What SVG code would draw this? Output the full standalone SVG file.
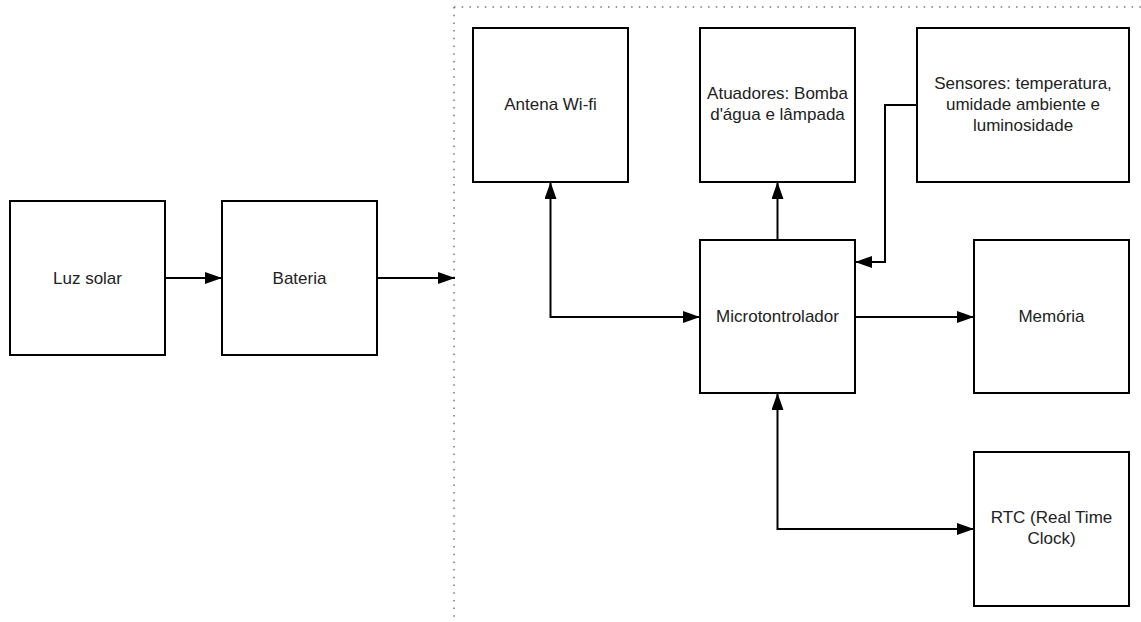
<svg xmlns="http://www.w3.org/2000/svg" width="1141" height="622" viewBox="0 0 1141 622">
  <defs>
    <marker id="arr" markerUnits="userSpaceOnUse" markerWidth="18" markerHeight="13" refX="17" refY="6" orient="auto-start-reverse">
      <path d="M0,0 L17,6 L0,12 Z" fill="#000"/>
    </marker>
    <style>
      .box { fill: #fff; stroke: #000; stroke-width: 2; }
      .lbl { font-family: "Liberation Sans", Arial, sans-serif; font-size: 17px; fill: #222; text-anchor: middle; }
      .con { fill: none; stroke: #000; stroke-width: 2; }
      .dot { fill: none; stroke: #777; stroke-width: 1.5; stroke-dasharray: 1.5 6.2; }
    </style>
  </defs>
  <rect width="1141" height="622" fill="#fff"/>

  <g id="container">
    <path class="dot" d="M454,7 H1141 M454,7 V622"/>
  </g>

  <g id="connectors">
    <path class="con" d="M165,278 H222" marker-end="url(#arr)"/>
    <path class="con" d="M377,278 H455" marker-end="url(#arr)"/>
    <path class="con" d="M550.5,182 V317 H700" marker-start="url(#arr)" marker-end="url(#arr)"/>
    <path class="con" d="M777.5,240 V182" marker-end="url(#arr)"/>
    <path class="con" d="M917,105 H885 V262 H855" marker-end="url(#arr)"/>
    <path class="con" d="M855,317 H974" marker-end="url(#arr)"/>
    <path class="con" d="M777.5,393 V529 H974" marker-start="url(#arr)" marker-end="url(#arr)"/>
  </g>

  <g id="luz-solar">
    <rect class="box" x="10" y="201" width="155" height="154"/>
    <text class="lbl" x="87.5" y="284">Luz solar</text>
  </g>
  <g id="bateria">
    <rect class="box" x="222" y="201" width="155" height="154"/>
    <text class="lbl" x="299.5" y="284">Bateria</text>
  </g>
  <g id="antena">
    <rect class="box" x="473" y="28" width="155" height="154"/>
    <text class="lbl" x="550.5" y="110">Antena Wi-fi</text>
  </g>
  <g id="atuadores">
    <rect class="box" x="700" y="28" width="155" height="154"/>
    <text class="lbl" x="777.5" y="99">Atuadores: Bomba</text>
    <text class="lbl" x="777.5" y="120">d'água e lâmpada</text>
  </g>
  <g id="sensores">
    <rect class="box" x="917" y="28" width="212" height="154"/>
    <text class="lbl" x="1023" y="89">Sensores: temperatura,</text>
    <text class="lbl" x="1023" y="110">umidade ambiente e</text>
    <text class="lbl" x="1023" y="131">luminosidade</text>
  </g>
  <g id="microcontrolador">
    <rect class="box" x="700" y="240" width="155" height="153"/>
    <text class="lbl" x="777.5" y="322">Microtontrolador</text>
  </g>
  <g id="memoria">
    <rect class="box" x="974" y="240" width="155" height="153"/>
    <text class="lbl" x="1051.5" y="322">Memória</text>
  </g>
  <g id="rtc">
    <rect class="box" x="974" y="452" width="155" height="154"/>
    <text class="lbl" x="1051.5" y="523">RTC (Real Time</text>
    <text class="lbl" x="1051.5" y="544">Clock)</text>
  </g>
</svg>
